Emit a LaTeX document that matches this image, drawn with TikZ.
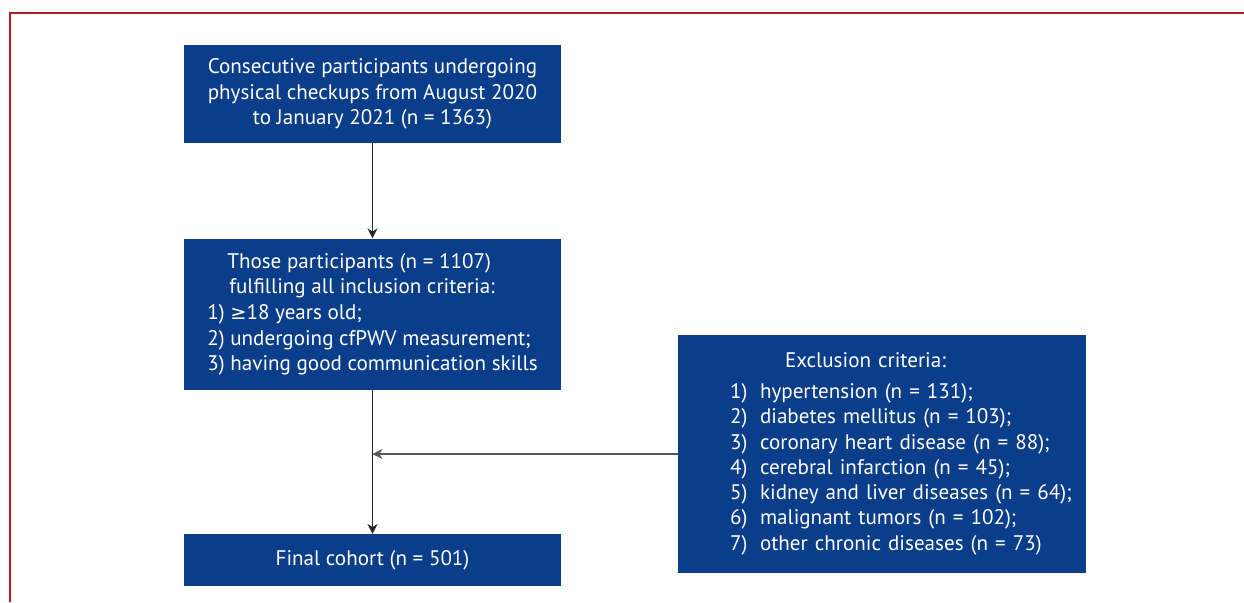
\documentclass[tikz,border=0pt]{standalone}
\usepackage{fontspec}
\setmainfont{PT Sans}
\newfontfamily\symfont{DejaVu Sans}
\usepackage{xcolor}
\usepackage{tikz}
\usetikzlibrary{arrows.meta, positioning}

\definecolor{boxblue}{RGB}{10,61,138}
\definecolor{framered}{RGB}{175,30,40}

\begin{document}
\begin{tikzpicture}[
    x=0.02cm, y=-0.02cm,
    node distance=1.9cm,
    block/.style={rectangle, fill=boxblue, text=white, minimum width=7.54cm, align=center, inner sep=0pt, font=\fontsize{12}{14.6}\selectfont},
    arrow/.style={-{Stealth[length=2mm, width=2mm]}, line width=0.8pt, draw=black!85},
]
    \useasboundingbox (0,0) rectangle (1244,602);
    \draw[framered, line width=0.9pt] (1244,13) -- (10,13) -- (10,602);

    \node[block, minimum height=1.96cm] (start) at (372.5,94) {Consecutive participants undergoing\\ physical checkups from August 2020\\ to January 2021 (n = 1363)};
    \node[block, minimum height=3.02cm, below=1.9cm of start, align=left] (incl) {\hspace*{0.4cm}Those participants (n = 1107)\\ \hspace*{0.44cm}fulfilling all inclusion criteria:\\ 1) {\symfont\fontsize{11}{14.6}\selectfont ≥}18 years old;\\ 2) undergoing cfPWV measurement;\\ 3) having good communication skills};
    \node[block, minimum height=1.04cm, below=2.88cm of incl] (final) {Final cohort (n = 501)};
    \node[block, minimum width=8.16cm, minimum height=4.76cm, text width=8.16cm, align=left, font=\fontsize{12}{14.4}\selectfont] (excl) at (882,454) {%
        \begin{tabular}{@{\hspace{1.04cm}}p{0.6cm}@{}l@{}}
        \multicolumn{2}{@{\hspace{2.14cm}}l}{Exclusion criteria:}\\[3pt]
        1) & hypertension (n = 131);\\
        2) & diabetes mellitus (n = 103);\\
        3) & coronary heart disease (n = 88);\\
        4) & cerebral infarction (n = 45);\\
        5) & kidney and liver diseases (n = 64);\\
        6) & malignant tumors (n = 102);\\
        7) & other chronic diseases (n = 73)
        \end{tabular}};

    \coordinate (join) at (excl.west -| incl.south);

    \draw[arrow] (start) -- (incl);
    \draw[arrow] (incl) -- (final);
    \draw[arrow, draw=black!65] (excl.west) -- (join);
\end{tikzpicture}
\end{document}
